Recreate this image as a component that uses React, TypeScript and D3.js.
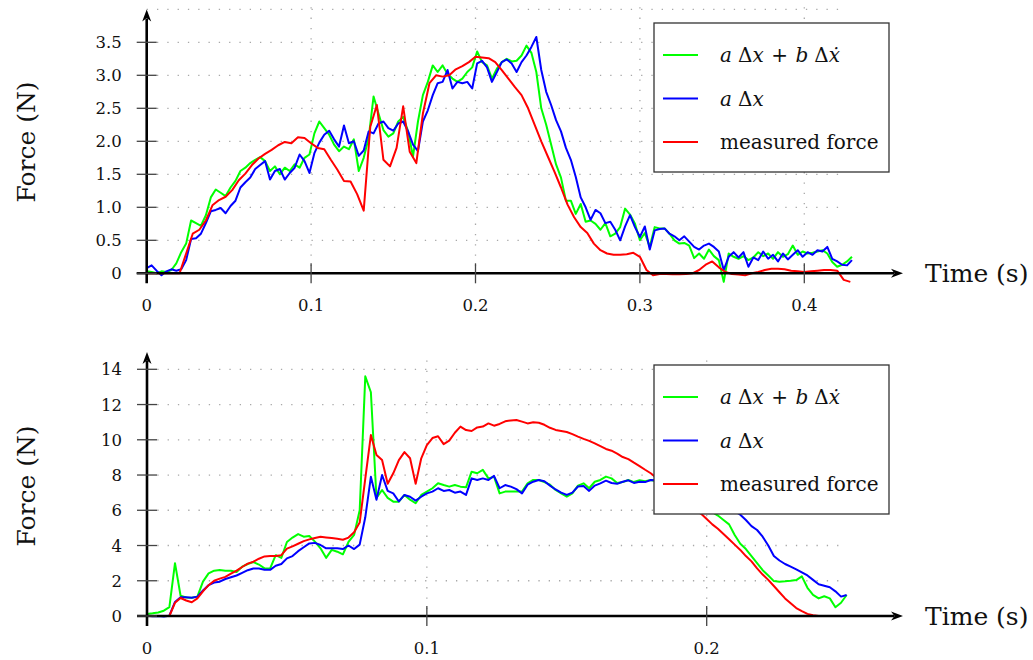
import React from "react";
import * as d3 from "d3";

// ---------------- DATA ----------------
// Top panel (time step for noisy model series, and for measured force)
const topModelDt = 0.003;
const topMeasuredDt = 0.004;

const topDamped: number[] = [
  0.03, 0.02, 0.0, 0.03, 0.02, 0.05, 0.15, 0.32, 0.45, 0.8,
  0.76, 0.72, 0.88, 1.15, 1.27, 1.22, 1.17, 1.3, 1.4, 1.55,
  1.6, 1.67, 1.72, 1.76, 1.7, 1.55, 1.62, 1.5, 1.6, 1.55,
  1.65, 1.6, 1.75, 1.8, 2.12, 2.3, 2.2, 2.1, 1.95, 1.85,
  1.92, 1.88, 2.03, 1.55, 1.75, 2.05, 2.68, 2.42, 2.17, 2.07,
  2.12, 2.3, 2.37, 2.15, 1.77, 2.3, 2.7, 2.9, 3.15, 3.05,
  3.15, 3.02, 2.95, 2.9, 2.95, 3.05, 3.12, 3.36, 3.2, 3.15,
  2.95, 3.1, 3.2, 3.25, 3.21, 3.22, 3.3, 3.45, 3.34, 3.05,
  2.5, 2.25, 1.95, 1.65, 1.45, 1.1, 1.1, 0.9, 1.05, 0.78,
  0.8, 0.75, 0.66, 0.76, 0.56, 0.6, 0.7, 0.98, 0.89, 0.75,
  0.5, 0.61, 0.4, 0.7, 0.68, 0.68, 0.6, 0.5, 0.45, 0.46,
  0.42, 0.23, 0.3, 0.22, 0.36, 0.26, 0.2, -0.13, 0.3, 0.25,
  0.22, 0.26, 0.2, 0.24, 0.32, 0.26, 0.3, 0.22, 0.32, 0.25,
  0.29, 0.42, 0.28, 0.33, 0.3, 0.31, 0.33, 0.35, 0.3, 0.17,
  0.1, 0.13, 0.18, 0.25,
];

const topSpring: number[] = [
  0.08, 0.12, 0.04, -0.03, 0.03, 0.06, 0.04, 0.06, 0.2, 0.52,
  0.53, 0.6, 0.76, 0.94, 0.96, 0.99, 0.91, 1.02, 1.1, 1.3,
  1.38, 1.45, 1.58, 1.64, 1.7, 1.42, 1.55, 1.58, 1.42, 1.52,
  1.6, 1.8, 1.7, 1.52, 1.82, 1.98, 2.1, 2.16, 2.03, 1.92,
  2.24, 1.97, 2.0, 1.78, 1.86, 2.15, 2.12, 2.27, 2.3, 2.2,
  2.16, 2.27, 2.3, 2.15, 1.95, 1.85, 2.3, 2.47, 2.7, 2.88,
  2.9, 3.08, 2.8, 2.9, 2.88, 2.9, 2.8, 3.18, 3.22, 3.12,
  2.9, 3.05, 3.2, 3.24, 3.18, 3.05, 3.2, 3.3, 3.43, 3.58,
  3.08, 2.75, 2.55, 2.32, 2.15, 1.9, 1.72, 1.46, 1.15, 1.0,
  0.81, 0.96, 0.91, 0.76, 0.78, 0.66, 0.5, 0.71, 0.88, 0.7,
  0.55, 0.71, 0.36, 0.65, 0.67, 0.68, 0.6, 0.56, 0.5, 0.56,
  0.48, 0.4, 0.36, 0.42, 0.45, 0.4, 0.33, 0.05, 0.25, 0.32,
  0.24, 0.32, 0.1, 0.24, 0.2, 0.33, 0.22, 0.28, 0.18, 0.3,
  0.21, 0.28, 0.35, 0.25, 0.32, 0.28, 0.35, 0.33, 0.4, 0.22,
  0.18, 0.13, 0.12, 0.2,
];

const topMeasured: number[] = [
  0, 0, 0, 0, 0, 0, 0.3, 0.6, 0.66, 0.8,
  1.03, 1.11, 1.16, 1.26, 1.41, 1.51, 1.64, 1.74, 1.81, 1.87,
  1.94, 1.99, 1.97, 2.06, 2.05, 1.97, 1.9, 1.88, 1.72, 1.57,
  1.4, 1.39, 1.2, 0.95, 2.22, 2.55, 1.72, 1.62, 1.9, 2.53,
  1.84, 1.67, 2.42, 2.88, 3.0, 2.98, 3.0, 3.09, 3.14, 3.2,
  3.28, 3.27, 3.26, 3.2, 3.08, 2.95, 2.82, 2.7, 2.5, 2.25,
  2.0, 1.77, 1.54, 1.3, 1.04, 0.85, 0.7, 0.61, 0.45, 0.35,
  0.3, 0.28, 0.28, 0.29, 0.31, 0.25, 0.05, -0.03, -0.01, -0.01,
  -0.015, -0.015, -0.01, 0, 0.05, 0.13, 0.18, 0.09, 0.02, -0.01,
  -0.02, -0.03, 0, 0.02, 0.05, 0.07, 0.07, 0.06, 0.04, 0.03,
  0.02, 0.03, 0.04, 0.05, 0.05, 0.04, -0.1, -0.13,
];

// Bottom panel
const bottomDt = 0.002;

const bottomDamped: number[] = [
  0.11, 0.15, 0.2, 0.3, 0.5, 3.0, 1.15, 1.05, 1.04, 1.1,
  1.95, 2.42, 2.57, 2.61, 2.57, 2.57, 2.5, 2.8, 2.95, 3.06,
  2.92, 2.7, 2.7, 3.45, 3.3, 4.2, 4.45, 4.65, 4.5, 4.54,
  4.22, 3.84, 3.3, 3.75, 3.65, 3.5, 4.2, 4.6, 6.0, 13.6,
  12.7, 6.7, 7.15, 6.7, 6.49, 6.49, 6.87, 6.6, 6.4, 6.87,
  7.06, 7.25, 7.53, 7.43, 7.34, 7.43, 7.34, 7.3, 8.19, 8.1,
  8.29, 7.81, 7.9, 6.96, 7.06, 7.06, 7.06, 7.06, 7.53, 7.72,
  7.72, 7.6, 7.45, 7.15, 6.96, 6.77, 6.96, 7.4, 7.53, 7.25,
  7.62, 7.72, 7.91, 7.81, 7.55, 7.6, 7.72, 7.6, 7.7, 7.65,
  7.72, 7.65, 7.6, 7.5, 7.4, 7.3, 7.1, 6.9, 6.7, 6.4,
  6.2, 5.9, 5.7, 5.45, 5.2, 4.6, 4.1, 3.8, 3.4, 3.0,
  2.6, 2.3, 1.98, 1.95, 1.97, 2.0, 2.04, 2.25, 1.6, 1.2,
  1.0, 1.12, 1.0, 0.5, 0.75, 1.19,
];

const bottomSpring: number[] = [
  0.02, -0.02, 0.0, -0.03, 0.02, 0.8, 1.06, 1.06, 1.04, 1.1,
  1.45, 1.75, 1.9, 1.95, 2.1, 2.2, 2.3, 2.45, 2.6, 2.7,
  2.7, 2.63, 2.62, 2.85, 2.95, 3.27, 3.4, 3.68, 3.9, 4.12,
  4.15, 4.03, 3.84, 3.84, 3.84, 3.8, 4.0, 3.8, 4.05, 5.6,
  7.9, 6.6, 8.0, 7.1, 6.96, 6.5, 6.87, 6.77, 6.55, 6.77,
  6.96, 7.06, 7.25, 7.1, 7.15, 7.0, 7.06, 6.87, 7.81, 7.72,
  7.81, 7.72, 7.95, 7.25, 7.43, 7.34, 7.2, 6.96, 7.45, 7.62,
  7.72, 7.65, 7.4, 7.18, 7.0, 6.87, 7.0, 7.35, 7.38, 7.1,
  7.4, 7.53, 7.68, 7.55, 7.5, 7.62, 7.7, 7.55, 7.62, 7.6,
  7.72, 7.7, 7.72, 7.65, 7.6, 7.5, 7.4, 7.3, 7.15, 7.0,
  6.85, 6.7, 6.5, 6.3, 6.1, 5.95, 5.75, 5.45, 5.1, 4.88,
  4.5, 4.0, 3.4, 3.15, 2.95, 2.8, 2.65, 2.48, 2.3, 2.05,
  1.8, 1.72, 1.63, 1.4, 1.1, 1.19,
];

const bottomMeasured: number[] = [
  0, 0, 0, 0, 0, 0.75, 1.02, 0.88, 0.78, 1.0,
  1.4, 1.75, 2.0, 2.12, 2.22, 2.4, 2.58, 2.78, 2.97, 3.08,
  3.25, 3.38, 3.4, 3.4, 3.45, 3.82, 3.95, 4.1, 4.25, 4.35,
  4.43, 4.5, 4.46, 4.42, 4.38, 4.33, 4.45, 4.75, 5.3, 7.8,
  10.27, 9.14, 8.85, 7.5, 8.1, 8.85, 9.3, 8.95, 7.5, 8.95,
  9.7, 10.1, 10.2, 9.75, 9.95, 10.4, 10.75, 10.55, 10.5, 10.7,
  10.75, 10.93, 10.8, 10.9, 11.05, 11.1, 11.12, 11.03, 10.93, 10.99,
  10.97, 10.85, 10.68, 10.56, 10.5, 10.44, 10.32, 10.18, 10.05, 9.94,
  9.8, 9.64, 9.48, 9.38, 9.22, 9.02, 8.9, 8.7, 8.51, 8.3,
  8.1, 7.85, 7.6, 7.3, 7.0, 6.75, 6.5, 6.25, 6.0, 5.8,
  5.5, 5.2, 4.95, 4.65, 4.35, 4.05, 3.75, 3.4, 3.1, 2.7,
  2.35, 2.05, 1.7, 1.35, 1.0, 0.72, 0.45, 0.28, 0.12, 0.05,
  0, 0, 0, 0, 0, 0,
];

// Ticks
const topXTicks = [0, 0.1, 0.2, 0.3, 0.4];
const topYTicks = [0, 0.5, 1.0, 1.5, 2.0, 2.5, 3.0, 3.5];
const topYTickLabels = ["0", "0.5", "1.0", "1.5", "2.0", "2.5", "3.0", "3.5"];
const topGridY = [0.5, 1.0, 1.5, 2.0, 2.5, 3.0, 3.5, 4.0];
const bottomXTicks = [0, 0.1, 0.2];
const bottomYTicks = [0, 2, 4, 6, 8, 10, 12, 14];
const bottomYTickLabels = ["0", "2", "4", "6", "8", "10", "12", "14"];

const legendLabels = ["damped", "spring", "measured force"];
const colors = { damped: "#00ff00", spring: "#0000ff", measured: "#ff0000" };

// ---------------- DRAWING ----------------
const FONT = "'DejaVu Serif', serif";
const LEGEND_FS = 20;

type Series = { values: number[]; dt: number; color: string };

function toPoints(values: number[], dt: number): [number, number][] {
  return values.map((v, i) => [i * dt, v]);
}

function Arrow({ x, y, dir }: { x: number; y: number; dir: "right" | "up" }) {
  const d =
    dir === "right"
      ? `M${x},${y} L${x - 12},${y - 4.5} L${x - 8.5},${y} L${x - 12},${y + 4.5} Z`
      : `M${x},${y} L${x - 4.5},${y + 12} L${x},${y + 8.5} L${x + 4.5},${y + 12} Z`;
  return <path d={d} fill="#000" />;
}

function LegendLabel({ kind, x, y }: { kind: string; x: number; y: number }) {
  if (kind === "measured force") {
    return (
      <text x={x} y={y} fontFamily={FONT} fontSize={LEGEND_FS} fill="#111">
        measured force
      </text>
    );
  }
  if (kind === "spring") {
    return (
      <text x={x} y={y} fontFamily={FONT} fontSize={LEGEND_FS} fill="#111">
        <tspan fontStyle="italic">a</tspan>
        <tspan dx={6}>Δ</tspan>
        <tspan fontStyle="italic">x</tspan>
      </text>
    );
  }
  return (
    <text x={x} y={y} fontFamily={FONT} fontSize={LEGEND_FS} fill="#111">
      <tspan fontStyle="italic">a</tspan>
      <tspan dx={6}>Δ</tspan>
      <tspan fontStyle="italic">x</tspan>
      <tspan dx={7.5}>+</tspan>
      <tspan dx={7.5} fontStyle="italic">b</tspan>
      <tspan dx={6}>Δ</tspan>
      <tspan fontStyle="italic">ẋ</tspan>
    </text>
  );
}

type PanelProps = {
  xScale: d3.ScaleLinear<number, number>;
  yScale: d3.ScaleLinear<number, number>;
  xTicks: number[];
  xTickLabels: string[];
  yTicks: number[];
  yTickLabels: string[];
  gridY: number[];
  gridXMax: number;
  gridYMax: number;
  axisTop: number;
  axisRight: number;
  series: Series[];
  legend: { x: number; y: number; w: number; h: number };
  yLabelCenter: number;
};

function Panel(p: PanelProps) {
  const { xScale: xs, yScale: ys } = p;
  const x0 = xs(0);
  const y0 = ys(0);
  const line = d3
    .line<[number, number]>()
    .x((d) => xs(d[0]))
    .y((d) => ys(d[1]));
  const gridStyle = {
    stroke: "#a8a8a8",
    strokeWidth: 1.3,
    strokeDasharray: "1.3 9",
    fill: "none",
  };
  const lg = p.legend;
  const rowGap = 43.5;
  return (
    <g>
      {/* grid */}
      {p.gridY.map((v) => (
        <line key={"gy" + v} x1={x0} x2={xs(p.gridXMax)} y1={ys(v)} y2={ys(v)} style={gridStyle} />
      ))}
      {p.xTicks
        .filter((t) => t > 0)
        .map((t) => (
          <line key={"gx" + t} x1={xs(t)} x2={xs(t)} y1={ys(p.gridYMax)} y2={y0} style={gridStyle} />
        ))}
      {/* series */}
      {p.series.map((s, i) => (
        <path
          key={i}
          d={line(toPoints(s.values, s.dt)) || ""}
          fill="none"
          stroke={s.color}
          strokeWidth={2}
          strokeLinejoin="round"
        />
      ))}
      {/* axes */}
      <line x1={x0 - 10} x2={p.axisRight - 9} y1={y0} y2={y0} stroke="#000" strokeWidth={2.6} />
      <Arrow x={p.axisRight} y={y0} dir="right" />
      <line x1={x0} x2={x0} y1={y0 + 10} y2={p.axisTop + 9} stroke="#000" strokeWidth={2.6} />
      <Arrow x={x0} y={p.axisTop} dir="up" />
      {/* ticks */}
      {p.yTicks.map((v, i) => (
        <g key={"yt" + v}>
          <line x1={x0 - 10} x2={x0 + 10} y1={ys(v)} y2={ys(v)} stroke="#444" strokeWidth={1.3} />
          <text x={x0 - 25} y={ys(v) + 6} textAnchor="end" fontFamily={FONT} fontSize={16.5} fill="#111">
            {p.yTickLabels[i]}
          </text>
        </g>
      ))}
      {p.xTicks.map((t, i) => (
        <g key={"xt" + t}>
          {t > 0 && (
            <line x1={xs(t)} x2={xs(t)} y1={y0 - 10} y2={y0 + 10} stroke="#444" strokeWidth={1.3} />
          )}
          <text x={xs(t)} y={y0 + 37.5} textAnchor="middle" fontFamily={FONT} fontSize={16.5} fill="#111">
            {p.xTickLabels[i]}
          </text>
        </g>
      ))}
      {/* axis labels */}
      <text
        transform={`translate(35,${p.yLabelCenter}) rotate(-90)`}
        textAnchor="middle"
        fontFamily={FONT}
        fontSize={25}
        fill="#111"
      >
        Force (N)
      </text>
      <text x={925} y={y0 + 8.5} fontFamily={FONT} fontSize={25} fill="#111">
        Time (s)
      </text>
      {/* legend */}
      <rect x={lg.x} y={lg.y} width={lg.w} height={lg.h} fill="#fff" stroke="#333" strokeWidth={1.3} />
      {legendLabels.map((lab, i) => {
        const yy = lg.y + 32 + i * rowGap;
        const c = i === 0 ? colors.damped : i === 1 ? colors.spring : colors.measured;
        return (
          <g key={lab}>
            <line x1={lg.x + 9} x2={lg.x + 44} y1={yy} y2={yy} stroke={c} strokeWidth={2} />
            <LegendLabel kind={lab} x={lg.x + 66} y={yy + 7} />
          </g>
        );
      })}
    </g>
  );
}

export default function App() {
  const topX = d3.scaleLinear().domain([0, 0.4]).range([146.7, 804.3]);
  const topY = d3.scaleLinear().domain([0, 3.5]).range([273.3, 42.3]);
  const botX = d3.scaleLinear().domain([0, 0.2]).range([147, 706.7]);
  const botY = d3.scaleLinear().domain([0, 14]).range([616, 369.3]);

  return (
    <svg
      width={1033}
      height={660}
      style={{ position: "absolute", left: 0, top: 0, background: "#fff" }}
    >
      <rect x={0} y={0} width={1033} height={660} fill="#fff" />
      <Panel
        xScale={topX}
        yScale={topY}
        xTicks={topXTicks}
        xTickLabels={topXTicks.map((t) => (t === 0 ? "0" : String(t)))}
        yTicks={topYTicks}
        yTickLabels={topYTickLabels}
        gridY={topGridY}
        gridXMax={0.4255}
        gridYMax={4.03}
        axisTop={9.5}
        axisRight={903}
        series={[
          { values: topDamped, dt: topModelDt, color: colors.damped },
          { values: topSpring, dt: topModelDt, color: colors.spring },
          { values: topMeasured, dt: topMeasuredDt, color: colors.measured },
        ]}
        legend={{ x: 654, y: 23, w: 235, h: 149 }}
        yLabelCenter={142}
      />
      <Panel
        xScale={botX}
        yScale={botY}
        xTicks={bottomXTicks}
        xTickLabels={bottomXTicks.map((t) => (t === 0 ? "0" : String(t)))}
        yTicks={bottomYTicks}
        yTickLabels={bottomYTickLabels}
        gridY={bottomYTicks.filter((v) => v > 0)}
        gridXMax={0.2477}
        gridYMax={14.5}
        axisTop={352}
        axisRight={903}
        series={[
          { values: bottomDamped, dt: bottomDt, color: colors.damped },
          { values: bottomSpring, dt: bottomDt, color: colors.spring },
          { values: bottomMeasured, dt: bottomDt, color: colors.measured },
        ]}
        legend={{ x: 654, y: 365, w: 235, h: 149 }}
        yLabelCenter={486}
      />
    </svg>
  );
}
